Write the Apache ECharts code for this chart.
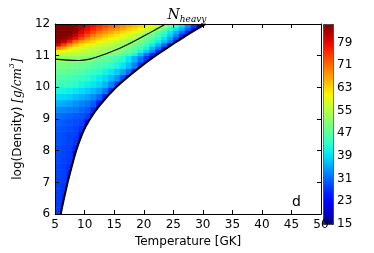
<!DOCTYPE html>
<html><head><meta charset="utf-8">
<script src="https://cdn.jsdelivr.net/npm/echarts@6/dist/echarts.min.js"></script>
<style>html,body{margin:0;padding:0;background:#fff}#c{width:374px;height:253px}</style>
</head><body><div id="c"></div>
<script>
// ---- data ----
const xTicks = [5,10,15,20,25,30,35,40,45,50];
const yTicks = [6,7,8,9,10,11,12];
const cbarTicks = [15,23,31,39,47,55,63,71,79];
const cbarMax = 85.5;
// temperature cell edges (GK) and density band edges (log g/cm^3)
const tempEdges = [5,6,7,8,9,10,11,12,13,14,15,16,17,18,19,20,21,22,23,24,25,26,27,28,29,30,31];
const rhoEdges = [6.0,6.2,6.4,6.6,6.8,7.0,7.2,7.4,7.6,7.8,8.0,8.2,8.4,8.6,8.8,9.0,9.2,9.4,9.6,9.8,10.0,10.2,10.4,10.6,10.8,11.0,11.1,11.2,11.3,11.4,11.5,11.6,11.7,11.8,11.9,12.0];
// right-hand boundary of the region (T at each density edge)
const boundaryT = [5.95,6.15,6.38,6.62,6.86,7.1,7.38,7.66,7.94,8.23,8.55,8.9,9.3,9.73,10.25,10.9,11.6,12.4,13.3,14.25,15.3,16.5,17.75,19.1,20.5,22.0,22.8,23.6,24.4,25.2,26.05,26.9,27.75,28.6,29.55,30.5];
// N_heavy per density band (bottom to top), per 1 GK cell starting at T=5
const rowValues = [
  [28,26],
  [28,26.5],
  [28,27],
  [28,27],
  [28.5,27.5,25],
  [28.5,28,26],
  [28.5,28,26.5],
  [28.5,28,27],
  [29,28.5,27.5,23],
  [29,28.5,28,24],
  [29,28.5,28,26],
  [29.5,29,28.5,27.5,22],
  [29.5,29,28.5,28,24],
  [30,29.5,29,28.5,27,22],
  [30.5,30,29.5,29,28.5,24],
  [31.5,31,30.5,30,29.5,28,22],
  [33.5,33,32.5,32,31,30,27,21],
  [36,35.5,35,34,33,32,30,25,20],
  [39,38.5,38,37,36,35,33.5,31,26,20],
  [42,41.5,41,40,39,38,36.5,35,32,27,21],
  [45,44.5,44,43,42,41,40,38.5,36.5,33,28,21],
  [46.5,46,45.5,45,44,43,42,40.5,39,37,34,29,21],
  [48,48,47.5,47,46,45,44,43,41.5,40,38,35,31,25,20],
  [50,50,49.5,49,48.5,48,47,46,45,43.5,42,40,37,33,27,20],
  [53,52.5,52,52,51.5,51,50,49,48,47,45,43,40,36,32,27,21],
  [55,55,54.5,54.5,54,53.5,53,52.5,51.5,50.5,49,47.5,45,42,37.5,32,25.5,20],
  [61,60,59,58,57,56,55,54,53.5,52.5,51.5,50,48,45.5,42,38,33,26,20],
  [70,66,62,60,58.5,57,56,55,54,53,52,51,49.5,47.5,45,41.5,37,32,25,20],
  [80,75,69,65,62.5,60.5,59,57.5,56,55,54,52.5,51.5,49.5,47,44.5,41,36.5,31,24,19.5],
  [84.5,81,77,71,67,64.5,62.5,61,59.5,58,56.5,55,53,51.5,49.5,47,44,41,37,32,25,19.5],
  [85.5,85,82,78.5,74,69.5,67,64.5,62.5,61,59.5,58,56,54,51.5,49,46,43,39.5,35,29,21],
  [85.5,85.5,85,81.5,77.5,74,70,67.5,65.5,63.5,62,60,58,56,54,51.5,48.5,45.5,42,38,33,26,20],
  [85.5,85.5,85.5,84,80,77,73.5,70.5,68.5,66.5,64.5,63,61.5,59.5,57,54,51,47.5,44,40,36,31,25,19.5],
  [85.5,85.5,85.5,85,82,79,76.5,74,71.5,69.5,68,66,64,62.5,60.5,58,55,51.5,48,44,40,35.5,30,23.5,19],
  [85.5,85.5,85.5,85,83,80,78,76,74,72,70.5,68.5,67,65,63.5,61.5,59,56,52.5,48.5,44,39.5,34,28,21.5,19]
];
// black contour line
const contourT = [5,7,9,11,13,15,17,19,21,23.7];
const contourRho = [10.89,10.86,10.85,10.9,11.02,11.16,11.33,11.52,11.72,12.0];

// ---- build ----
const cells = [];
rowValues.forEach((row, i) => row.forEach((v, j) => cells.push([i, j, v])));
const boundaryLine = boundaryT.map((t, k) => [t, rhoEdges[k]]);
const contourLine = contourT.map((t, k) => [t, contourRho[k]]);

function renderCell(params, api) {
  const i = api.value(0), j = api.value(1);
  const y0 = rhoEdges[i], y1 = rhoEdges[i + 1];
  const b0 = boundaryT[i], b1 = boundaryT[i + 1];
  const x0 = tempEdges[j], x1 = tempEdges[j + 1];
  const poly = [[x0, y0], [x1, y0], [x1, y1], [x0, y1]];
  const f = p => b0 + (b1 - b0) * (p[1] - y0) / (y1 - y0) - p[0];
  const out = [];
  for (let k = 0; k < poly.length; k++) {
    const a = poly[k], b = poly[(k + 1) % poly.length];
    const fa = f(a), fb = f(b);
    if (fa >= 0) out.push(a);
    if ((fa >= 0) !== (fb >= 0)) {
      const t = fa / (fa - fb);
      out.push([a[0] + t * (b[0] - a[0]), a[1] + t * (b[1] - a[1])]);
    }
  }
  if (out.length < 3) return;
  const c = api.visual('color');
  return { type: 'polygon', shape: { points: out.map(p => api.coord(p)) },
           style: { fill: c, stroke: c, lineWidth: 0.7 } };
}

const jet = ['#000080','#0000b9','#0000f3','#001aff','#004cff','#0080ff','#00b3ff','#00e6f7',
  '#29ffce','#52ffa4','#7bff7b','#a4ff52','#ceff29','#f7f600','#ffc600','#ff9700','#ff6800',
  '#ff3900','#f30900','#b90000','#800000'];

const FONT = 'DejaVu Sans';
const lbl = { color: '#000', fontFamily: FONT, fontSize: 12 };
const line = { show: true, lineStyle: { color: '#000', width: 1 } };
const tickIn = { show: true, inside: true, length: 4, lineStyle: { color: '#000', width: 1 } };

const chart = echarts.init(document.getElementById('c'), null, { renderer: 'canvas' });
chart.setOption({
  animation: false,
  backgroundColor: '#fff',
  title: {
    text: '{n|N}{s|heavy}', left: 'center', top: 1,
    textStyle: { fontWeight: 'normal', rich: {
      n: { fontFamily: 'DejaVu Serif', fontStyle: 'italic', fontWeight: 'normal', fontSize: 14, lineHeight: 18, color: '#000' },
      s: { fontFamily: 'DejaVu Serif', fontStyle: 'italic', fontWeight: 'normal', fontSize: 9, lineHeight: 10, verticalAlign: 'bottom', color: '#000' }
    } }
  },
  grid: [
    { left: 53, top: 24, width: 268, height: 200 },
    { left: 323, top: 24, width: 10, height: 200 }
  ],
  xAxis: [
    { gridIndex: 0, type: 'value', position: 'bottom', min: xTicks[0], max: xTicks[xTicks.length - 1],
      interval: xTicks[1] - xTicks[0], z: 10, axisLine: line, axisTick: tickIn, splitLine: { show: false },
      axisLabel: Object.assign({ margin: 5 }, lbl),
      name: 'Temperature [GK]', nameLocation: 'middle', nameGap: 16,
      nameTextStyle: { color: '#000', fontFamily: FONT, fontSize: 12 } },
    { gridIndex: 0, type: 'value', position: 'top', min: xTicks[0], max: xTicks[xTicks.length - 1],
      interval: xTicks[1] - xTicks[0], z: 10, axisLine: line, axisTick: tickIn, splitLine: { show: false },
      axisLabel: { show: false } },
    { gridIndex: 1, type: 'value', min: 0, max: 1, show: false }
  ],
  yAxis: [
    { gridIndex: 0, type: 'value', position: 'left', min: yTicks[0], max: yTicks[yTicks.length - 1],
      interval: yTicks[1] - yTicks[0], z: 10, axisLine: line, axisTick: tickIn, splitLine: { show: false },
      axisLabel: Object.assign({ margin: 5 }, lbl),
      name: '{a|log(Density) }{b|[g/cm}{s|3}{b|]}', nameLocation: 'middle', nameRotate: 90, nameGap: 22,
      nameTextStyle: { rich: {
        a: { fontFamily: FONT, fontSize: 12, lineHeight: 20, color: '#000' },
        b: { fontFamily: 'DejaVu Serif', fontStyle: 'italic', fontSize: 12, lineHeight: 20, color: '#000' },
        s: { fontFamily: 'DejaVu Serif', fontStyle: 'italic', fontSize: 8, lineHeight: 9, verticalAlign: 'top', color: '#000' }
      } } },
    { gridIndex: 0, type: 'value', position: 'right', min: yTicks[0], max: yTicks[yTicks.length - 1],
      interval: yTicks[1] - yTicks[0], z: 10, axisLine: line, axisTick: tickIn, splitLine: { show: false },
      axisLabel: { show: false } },
    { gridIndex: 1, type: 'value', position: 'right', min: cbarTicks[0], max: cbarMax,
      interval: cbarTicks[1] - cbarTicks[0], axisLine: { show: false }, axisTick: { show: false },
      splitLine: { show: false },
      axisLabel: Object.assign({ margin: 4, showMaxLabel: false,
        formatter: v => cbarTicks.indexOf(v) >= 0 ? String(v) : '' }, lbl) }
  ],
  visualMap: {
    type: 'continuous', seriesIndex: 0, dimension: 2, min: cbarTicks[0], max: cbarMax,
    orient: 'vertical', left: 323, top: 24, itemWidth: 10, itemHeight: 200, padding: 0,
    calculable: false, text: null, showLabel: false, realtime: false,
    borderColor: '#333', borderWidth: 1,
    inRange: { color: jet }
  },
  graphic: [
    { type: 'text', left: 292, top: 195, style: { text: 'd', fill: '#000', font: '14px "DejaVu Sans"' } }
  ],
  series: [
    { type: 'custom', xAxisIndex: 0, yAxisIndex: 0, data: cells, renderItem: renderCell,
      dimensions: ['row', 'col', 'value'], encode: { x: 1, y: 0 }, clip: true, z: 2 },
    { type: 'line', xAxisIndex: 0, yAxisIndex: 0, data: boundaryLine, symbol: 'none', smooth: false,
      lineStyle: { color: '#000', width: 2 }, z: 5, silent: true },
    { type: 'line', xAxisIndex: 0, yAxisIndex: 0, data: contourLine, symbol: 'none', smooth: true,
      lineStyle: { color: '#000', width: 1.1 }, z: 5, silent: true }
  ]
});
</script></body></html>
